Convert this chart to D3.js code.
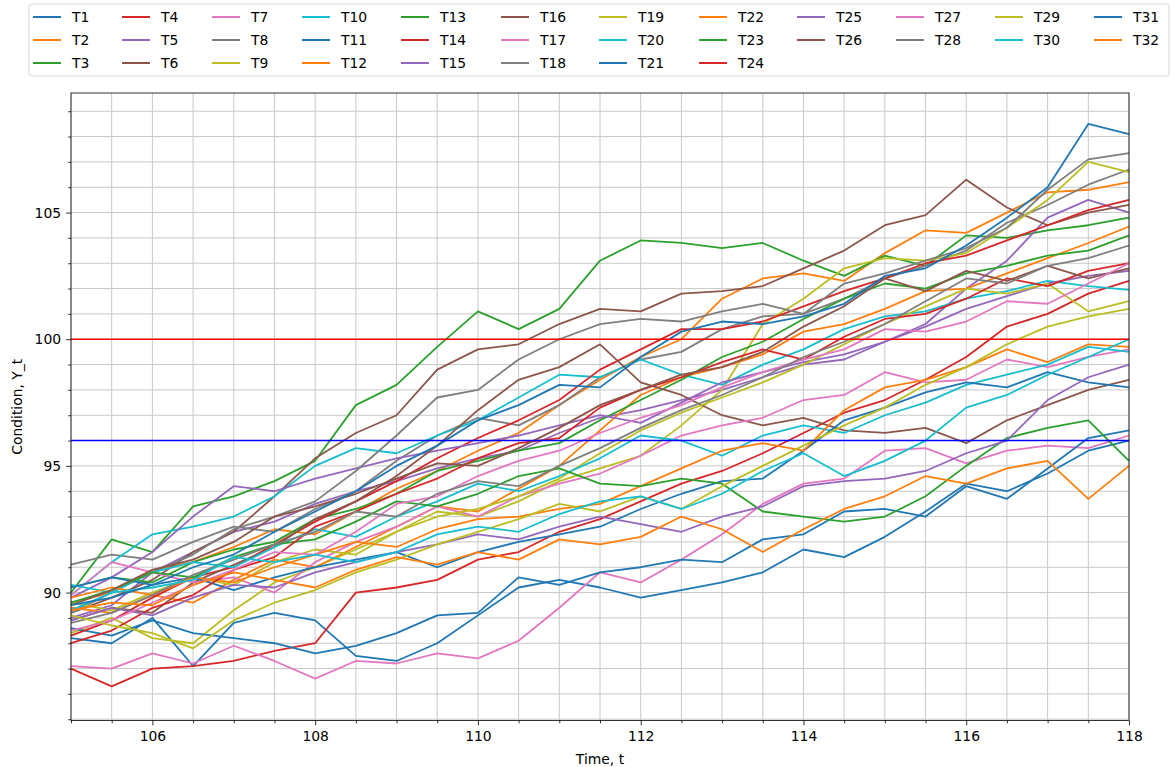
<!DOCTYPE html>
<html>
<head>
<meta charset="utf-8">
<script src="https://cdn.jsdelivr.net/npm/d3@7"></script>
<style>
  body { margin: 0; background: #fff; }
  text { font-family: "DejaVu Sans", sans-serif; fill: #000; }
</style>
</head>
<body>
<svg id="chart" width="1171" height="767"></svg>
<script>
// sampling times (every half unit)
const time = [105, 105.5, 106, 106.5, 107, 107.5, 108, 108.5, 109, 109.5, 110, 110.5, 111, 111.5,
              112, 112.5, 113, 113.5, 114, 114.5, 115, 115.5, 116, 116.5, 117, 117.5, 118];

// condition of each trajectory
const T1  = [88.2, 88.0, 89.0, 87.1, 88.8, 89.2, 88.9, 87.5, 87.3, 88.0, 89.1, 90.2, 90.5, 90.2, 89.8, 90.1, 90.4, 90.8, 91.7, 91.4, 92.2, 93.2, 94.3, 94.0, 94.7, 95.6, 96.0];
const T2  = [89.6, 90.0, 90.9, 91.2, 91.8, 92.5, 92.3, 93.2, 94.1, 94.8, 95.6, 96.3, 97.4, 98.4, 99.3, 100.0, 101.6, 102.4, 102.6, 102.3, 103.4, 104.3, 104.2, 105.0, 105.8, 105.9, 106.2];
const T3  = [90.0, 92.1, 91.6, 93.4, 93.8, 94.4, 95.2, 97.4, 98.2, 99.7, 101.1, 100.4, 101.2, 103.1, 103.9, 103.8, 103.6, 103.8, 103.1, 102.5, 103.3, 102.9, 104.1, 104.0, 104.3, 104.5, 104.8];
const T4  = [87.0, 86.3, 87.0, 87.1, 87.3, 87.7, 88.0, 90.0, 90.2, 90.5, 91.3, 91.6, 92.4, 92.9, 93.6, 94.3, 94.8, 95.5, 96.3, 97.1, 97.6, 98.4, 99.3, 100.5, 101.0, 101.8, 102.3];
const T5  = [89.0, 89.5, 90.8, 91.6, 92.4, 92.8, 93.5, 94.0, 94.4, 94.9, 95.3, 95.6, 96.3, 96.9, 97.2, 97.6, 98.0, 98.5, 99.0, 99.2, 99.9, 100.6, 102.0, 103.1, 104.8, 105.5, 105.0];
const T6  = [89.2, 89.8, 90.5, 91.6, 92.4, 93.8, 95.3, 96.3, 97.0, 98.8, 99.6, 99.8, 100.6, 101.2, 101.1, 101.8, 101.9, 102.1, 102.8, 103.5, 104.5, 104.9, 106.3, 105.2, 104.5, 105.0, 105.3];
const T7  = [87.1, 87.0, 87.6, 87.2, 87.9, 87.3, 86.6, 87.3, 87.2, 87.6, 87.4, 88.1, 89.4, 90.8, 90.4, 91.3, 92.3, 93.5, 94.3, 94.5, 95.6, 95.7, 95.1, 95.6, 95.8, 95.7, 96.2];
const T8  = [91.1, 91.5, 91.3, 92.0, 92.6, 92.4, 93.3, 94.0, 95.2, 96.2, 96.9, 96.6, 97.4, 98.5, 99.2, 99.5, 100.4, 100.9, 101.0, 101.6, 102.4, 102.9, 103.5, 104.6, 105.3, 106.1, 106.7];
const T9  = [88.4, 89.0, 88.2, 88.0, 89.3, 90.4, 91.0, 91.7, 92.4, 93.2, 93.0, 93.6, 94.4, 94.9, 95.4, 96.6, 98.0, 100.6, 101.6, 102.8, 103.2, 103.1, 103.4, 104.4, 105.5, 107.0, 106.6];
const T10 = [89.9, 91.2, 92.3, 92.6, 93.0, 93.8, 95.0, 95.7, 95.5, 96.2, 96.8, 97.7, 98.6, 98.5, 99.2, 98.6, 98.2, 99.0, 99.6, 100.4, 100.9, 101.1, 101.6, 101.9, 102.3, 102.1, 101.95];
const T11 = [88.6, 88.3, 88.9, 88.4, 88.2, 88.0, 87.6, 87.9, 88.4, 89.1, 89.2, 90.6, 90.3, 90.8, 91.0, 91.3, 91.2, 92.1, 92.3, 93.2, 93.3, 93.0, 94.2, 93.7, 94.9, 96.1, 96.4];
const T12 = [89.4, 89.2, 89.9, 89.6, 90.5, 91.3, 91.0, 91.8, 92.6, 93.4, 93.2, 94.1, 95.0, 96.4, 97.8, 98.5, 98.9, 99.4, 100.3, 100.6, 101.2, 101.9, 102.0, 102.6, 103.2, 103.8, 104.45];
const T13 = [90.2, 90.6, 90.4, 91.2, 91.7, 92.0, 92.9, 93.3, 93.9, 94.8, 95.2, 95.6, 95.9, 96.8, 97.6, 98.4, 99.3, 99.9, 100.8, 101.6, 102.2, 102.0, 102.6, 102.9, 103.3, 103.5, 104.1];
const T14 = [88.3, 88.9, 89.8, 90.6, 91.0, 91.9, 92.8, 93.6, 94.4, 95.3, 96.1, 96.8, 97.6, 98.8, 99.6, 100.4, 100.4, 100.7, 101.3, 101.9, 102.4, 103.0, 103.3, 103.9, 104.5, 105.1, 105.5];
const T15 = [89.8, 90.6, 91.6, 93.0, 94.2, 94.0, 94.5, 94.9, 95.3, 95.6, 95.9, 96.2, 96.6, 97.0, 96.7, 97.5, 98.3, 98.7, 99.1, 99.4, 99.9, 100.5, 101.2, 101.7, 102.2, 102.5, 102.7];
const T16 = [88.9, 89.4, 89.2, 90.4, 91.1, 91.8, 92.9, 93.6, 94.6, 95.8, 97.2, 98.4, 98.9, 99.8, 98.3, 97.8, 97.0, 96.6, 96.9, 96.4, 96.3, 96.5, 95.9, 96.8, 97.4, 98.0, 98.4];
const T17 = [89.9, 91.2, 90.8, 90.4, 90.6, 90.0, 91.2, 92.0, 92.6, 93.4, 93.0, 93.8, 94.3, 94.7, 95.4, 96.2, 96.6, 96.9, 97.6, 97.8, 98.7, 98.3, 98.4, 99.2, 98.9, 99.3, 99.6];
const T18 = [89.2, 90.0, 90.8, 91.5, 92.5, 93.0, 93.6, 94.8, 96.2, 97.7, 98.0, 99.2, 100.0, 100.6, 100.8, 100.7, 101.1, 101.4, 101.0, 102.2, 102.6, 103.1, 103.6, 104.4, 105.9, 107.1, 107.35];
const T19 = [89.6, 89.3, 90.0, 90.6, 90.3, 91.2, 91.7, 91.5, 92.4, 93.0, 93.3, 93.8, 94.5, 95.5, 96.4, 97.1, 97.7, 98.3, 99.0, 99.8, 100.6, 101.3, 102.0, 101.8, 102.2, 101.1, 101.5];
const T20 = [90.3, 90.0, 90.8, 91.2, 91.0, 91.8, 92.5, 92.2, 93.0, 93.6, 94.3, 94.0, 94.6, 95.3, 96.2, 96.0, 95.4, 96.2, 96.6, 96.3, 97.0, 97.5, 98.2, 98.6, 99.0, 99.7, 99.5];
const T21 = [90.2, 90.6, 90.3, 90.6, 90.1, 90.6, 91.0, 91.3, 91.6, 91.0, 91.6, 92.0, 92.3, 92.6, 93.3, 93.9, 94.4, 94.5, 95.6, 96.8, 97.3, 97.9, 98.3, 98.1, 98.7, 98.3, 98.1];
const T22 = [89.8, 90.2, 89.9, 90.6, 90.4, 91.0, 91.5, 92.0, 91.8, 92.5, 92.9, 93.0, 93.3, 93.5, 94.2, 94.9, 95.6, 95.9, 95.6, 97.2, 98.1, 98.4, 98.9, 99.6, 99.1, 99.8, 99.7];
const T23 = [89.6, 90.1, 90.8, 90.6, 91.4, 91.9, 92.1, 92.8, 93.6, 93.4, 93.9, 94.6, 94.9, 94.3, 94.2, 94.5, 94.3, 93.2, 93.0, 92.8, 93.0, 93.8, 95.0, 96.1, 96.5, 96.8, 95.2];
const T24 = [88.0, 88.5, 89.4, 89.9, 90.9, 91.4, 92.6, 93.2, 93.9, 94.5, 95.3, 95.9, 96.1, 97.3, 98.0, 98.5, 99.1, 99.6, 99.2, 100.1, 100.8, 101.0, 101.6, 102.4, 102.1, 102.7, 103.0];
const T25 = [88.9, 89.4, 89.1, 89.8, 90.3, 90.2, 90.8, 91.2, 91.6, 91.9, 92.3, 92.1, 92.6, 93.0, 92.7, 92.4, 93.0, 93.4, 94.2, 94.4, 94.5, 94.8, 95.5, 96.0, 97.6, 98.5, 99.0];
const T26 = [89.5, 90.1, 90.9, 91.3, 92.0, 93.0, 93.4, 93.9, 94.5, 95.1, 95.0, 95.7, 96.5, 97.4, 98.0, 98.6, 98.9, 99.5, 100.5, 101.3, 102.4, 101.9, 102.7, 102.3, 102.9, 102.4, 102.8];
const T27 = [88.5, 88.9, 89.6, 90.3, 90.9, 91.6, 91.5, 92.4, 93.5, 93.8, 94.6, 95.2, 95.6, 96.3, 96.9, 97.4, 98.1, 98.7, 99.2, 99.6, 100.4, 100.3, 100.7, 101.5, 101.4, 102.2, 103.0];
const T28 = [88.8, 89.2, 89.9, 90.7, 91.3, 91.9, 92.4, 93.2, 93.0, 93.9, 94.4, 94.2, 95.0, 95.7, 96.5, 97.2, 97.8, 98.5, 99.3, 99.9, 100.6, 101.5, 102.4, 102.2, 102.9, 103.2, 103.7];
const T29 = [89.1, 88.7, 88.4, 87.8, 88.9, 89.6, 90.1, 90.8, 91.3, 91.9, 92.4, 92.9, 93.5, 93.2, 93.8, 93.3, 94.2, 95.0, 95.8, 96.6, 97.3, 98.2, 98.9, 99.8, 100.5, 100.9, 101.2];
const T30 = [89.3, 90.0, 90.2, 90.5, 91.4, 91.2, 91.5, 91.2, 91.6, 92.3, 92.6, 92.4, 93.1, 93.6, 93.8, 93.3, 93.9, 94.8, 95.5, 94.6, 95.2, 96.0, 97.3, 97.8, 98.6, 99.3, 100.0];
const T31 = [89.5, 89.8, 90.3, 91.0, 91.5, 92.4, 93.2, 94.0, 95.0, 95.8, 96.8, 97.4, 98.2, 98.1, 99.3, 100.3, 100.7, 100.6, 100.9, 101.4, 102.5, 102.8, 103.7, 104.8, 106.0, 108.5, 108.1];
const T32 = [89.3, 89.6, 89.5, 90.3, 90.8, 90.5, 90.2, 90.9, 91.4, 91.1, 91.6, 91.3, 92.1, 91.9, 92.2, 93.0, 92.5, 91.6, 92.5, 93.3, 93.8, 94.6, 94.3, 94.9, 95.2, 93.7, 95.0];

const seriesNames = ["T1", "T2", "T3", "T4", "T5", "T6", "T7", "T8", "T9", "T10", "T11", "T12", "T13", "T14", "T15", "T16",
                     "T17", "T18", "T19", "T20", "T21", "T22", "T23", "T24", "T25", "T26", "T27", "T28", "T29", "T30", "T31", "T32"];
const seriesValues = [T1, T2, T3, T4, T5, T6, T7, T8, T9, T10, T11, T12, T13, T14, T15, T16,
                      T17, T18, T19, T20, T21, T22, T23, T24, T25, T26, T27, T28, T29, T30, T31, T32];

// threshold lines
const upperLevel = 100;
const lowerLevel = 96;

// tick labels
const xTicks = [106, 108, 110, 112, 114, 116, 118];
const yTicks = [90, 95, 100, 105];

const palette = ["#1f77b4", "#ff7f0e", "#2ca02c", "#d62728", "#9467bd",
                 "#8c564b", "#e377c2", "#7f7f7f", "#bcbd22", "#17becf"];

// ---- layout ----
const W = 1171, H = 767;
const plot = {left: 71, right: 1129, top: 93, bottom: 720.5};

const x = d3.scaleLinear().domain([105, 118]).range([plot.left, plot.right]);
const y = d3.scaleLinear().domain([84.95, 109.72]).range([plot.bottom, plot.top]);

const svg = d3.select("#chart");
svg.append("rect").attr("width", W).attr("height", H).attr("fill", "#fff");

// grid (major + minor)
const xGrid = d3.range(210, 237).map(d => d / 2);
const yGrid = d3.range(85, 110);
const grid = svg.append("g").attr("stroke", "#c8c8c8").attr("stroke-width", 1);
grid.selectAll("line.gx").data(xGrid).enter().append("line")
    .attr("x1", d => x(d)).attr("x2", d => x(d))
    .attr("y1", plot.top).attr("y2", plot.bottom);
grid.selectAll("line.gy").data(yGrid).enter().append("line")
    .attr("x1", plot.left).attr("x2", plot.right)
    .attr("y1", d => y(d)).attr("y2", d => y(d));

// trajectories
const line = d3.line().x((d, i) => x(time[i])).y(d => y(d));
svg.append("g").selectAll("path").data(seriesValues).enter().append("path")
    .attr("d", d => line(d))
    .attr("fill", "none")
    .attr("stroke", (d, i) => palette[i % 10])
    .attr("stroke-width", 1.8)
    .attr("stroke-linejoin", "round");

// threshold lines
svg.append("line").attr("x1", plot.left).attr("x2", plot.right)
    .attr("y1", y(upperLevel)).attr("y2", y(upperLevel))
    .attr("stroke", "#ff0000").attr("stroke-width", 1.6);
svg.append("line").attr("x1", plot.left).attr("x2", plot.right)
    .attr("y1", y(lowerLevel)).attr("y2", y(lowerLevel))
    .attr("stroke", "#0000ff").attr("stroke-width", 1.6);

// axes
const xAxis = svg.append("g").attr("transform", "translate(0," + plot.bottom + ")")
    .call(d3.axisBottom(x).tickValues(xTicks).tickSize(4.9).tickPadding(6).tickFormat(d3.format("d")));
const xMinor = svg.append("g").attr("transform", "translate(0," + plot.bottom + ")")
    .call(d3.axisBottom(x).tickValues(xGrid.filter(d => !xTicks.includes(d))).tickSize(2.8).tickFormat(""));
const yAxis = svg.append("g").attr("transform", "translate(" + plot.left + ",0)")
    .call(d3.axisLeft(y).tickValues(yTicks).tickSize(4.9).tickPadding(5).tickFormat(d3.format("d")));
const yMinor = svg.append("g").attr("transform", "translate(" + plot.left + ",0)")
    .call(d3.axisLeft(y).tickValues(yGrid.filter(d => !yTicks.includes(d))).tickSize(2.8).tickFormat(""));

[xAxis, xMinor, yAxis, yMinor].forEach(g => {
  g.select(".domain").remove();
  g.selectAll("line").attr("stroke", "#000").attr("stroke-width", 0.8);
  g.selectAll("text").style("font-family", "DejaVu Sans, sans-serif").style("font-size", "13.9px").attr("fill", "#000");
});

// spines
svg.append("rect")
    .attr("x", plot.left).attr("y", plot.top)
    .attr("width", plot.right - plot.left).attr("height", plot.bottom - plot.top)
    .attr("fill", "none").attr("stroke", "#000").attr("stroke-width", 0.8);

// axis titles
svg.append("text").attr("x", (plot.left + plot.right) / 2).attr("y", 764)
    .attr("text-anchor", "middle").style("font-size", "13.9px").text("Time, t");
svg.append("text").attr("transform", "translate(22," + (plot.top + plot.bottom) / 2 + ") rotate(-90)")
    .attr("text-anchor", "middle").style("font-size", "13.9px").text("Condition, Y_t");

// legend: 12 columns, filled column by column
const legendCols = [33, 122, 212, 302, 401, 501, 599, 699, 797, 896, 995, 1094];
const legendRows = [17, 40, 63];
const nCol = 12, nRow = Math.ceil(seriesNames.length / nCol);
const nBig = seriesNames.length % nCol || nCol;
const legendPos = [];
let idx = 0;
for (let c = 0; c < nCol; c++) {
  const rowsHere = c < nBig ? nRow : nRow - 1;
  for (let r = 0; r < rowsHere; r++) legendPos[idx++] = {c, r};
}

const legend = svg.append("g");
legend.append("rect").attr("x", 29).attr("y", 4).attr("width", 1140).attr("height", 72)
    .attr("rx", 3).attr("fill", "#fff").attr("fill-opacity", 0.8)
    .attr("stroke", "#d5d5d5").attr("stroke-width", 1);
const items = legend.selectAll("g.item").data(seriesNames).enter().append("g")
    .attr("transform", (d, i) => "translate(" + legendCols[legendPos[i].c] + "," + legendRows[legendPos[i].r] + ")");
items.append("line").attr("x1", 0).attr("x2", 28).attr("y1", 0).attr("y2", 0)
    .attr("stroke", (d, i) => palette[i % 10]).attr("stroke-width", 2);
items.append("text").attr("x", 39).attr("y", 5).style("font-size", "13.9px").text(d => d);
</script>
</body>
</html>
